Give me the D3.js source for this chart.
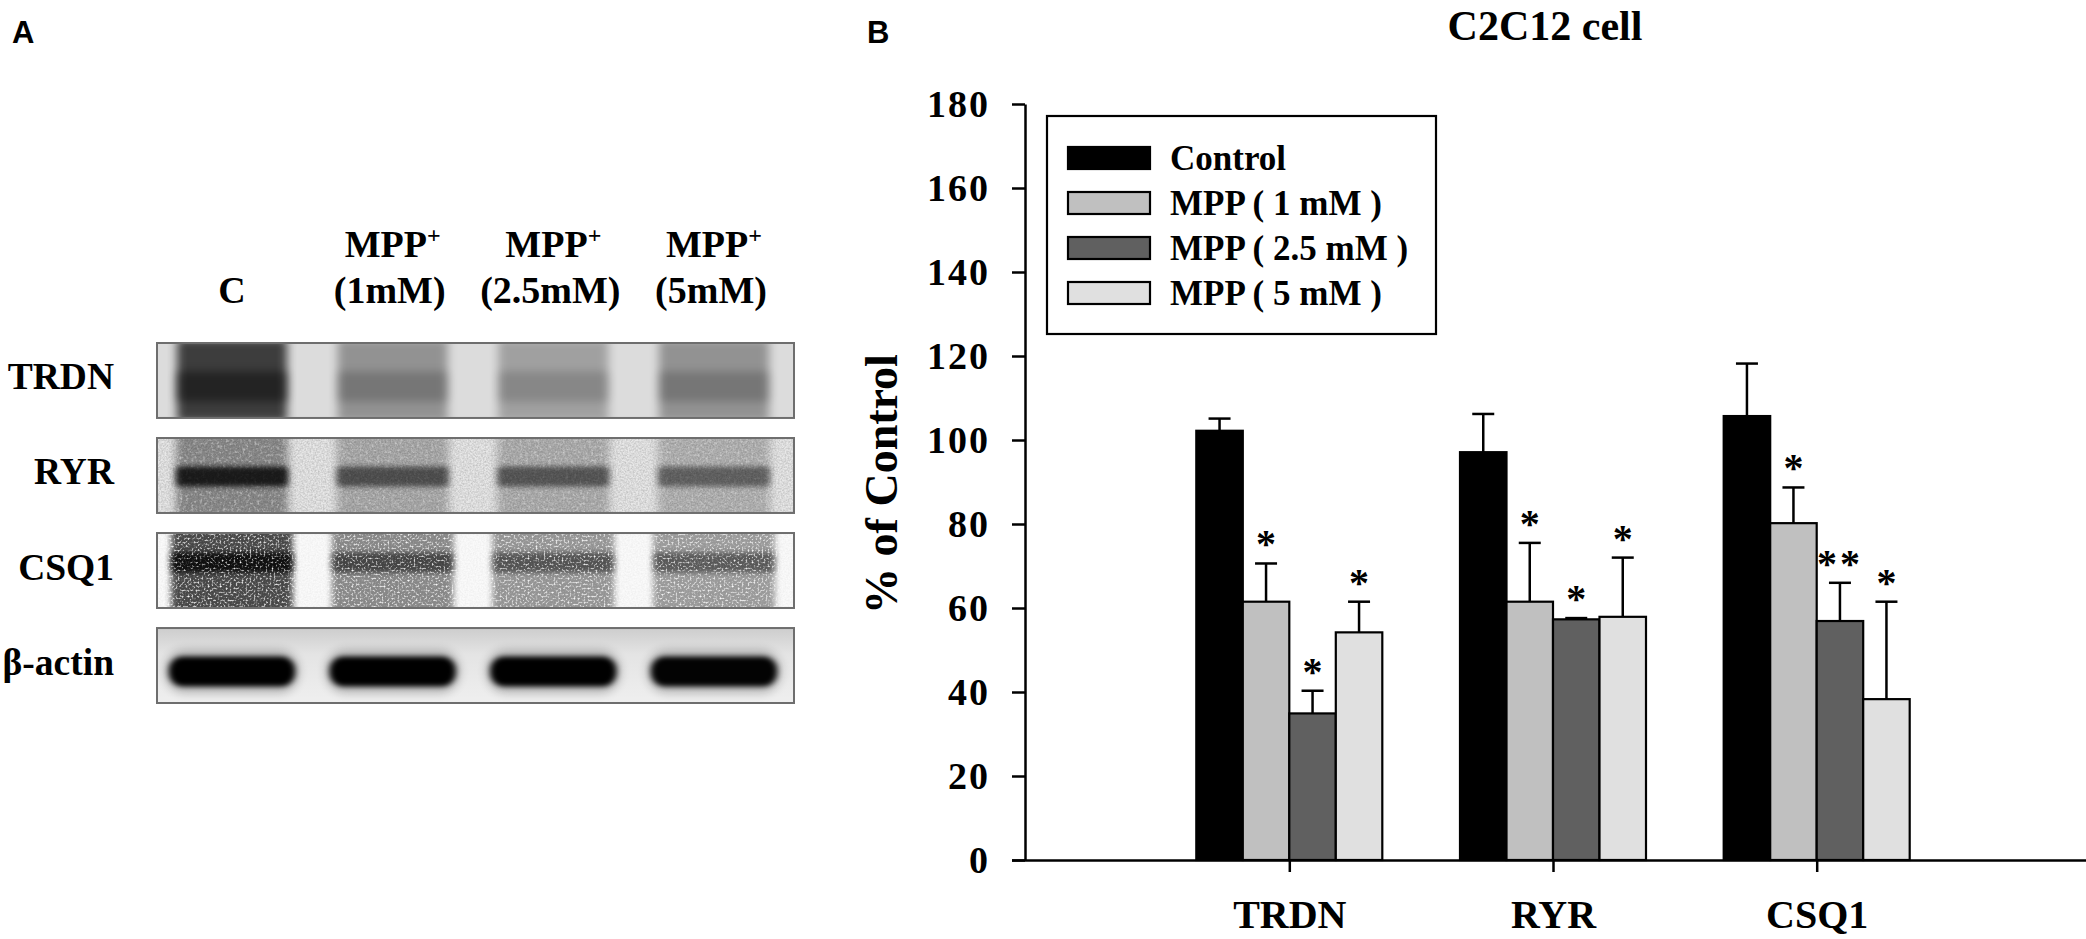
<!DOCTYPE html>
<html><head><meta charset="utf-8">
<script src="https://cdn.jsdelivr.net/npm/d3@7"></script>
<style>html,body{margin:0;padding:0;background:#fff;overflow:hidden}svg{display:block}</style>
</head><body>
<svg id="fig" width="2086" height="939"></svg>
<script>
// ================= DATA =================
// Panel B: bar chart
const categories = ["TRDN", "RYR", "CSQ1"];
const seriesNames = ["Control", "MPP ( 1 mM )", "MPP ( 2.5 mM )", "MPP ( 5 mM )"];
const controlVals = [102.2, 97.1, 105.7];
const mpp1Vals    = [61.5, 61.5, 80.2];
const mpp25Vals   = [34.9, 57.3, 56.9];
const mpp5Vals    = [54.2, 57.9, 38.3];
const controlErr  = [2.9, 9.1, 12.5];
const mpp1Err     = [9.1, 14.0, 8.5];
const mpp25Err    = [5.4, 0.3, 9.1];
const mpp5Err     = [7.3, 14.1, 23.2];
const controlSig  = ["", "", ""];
const mpp1Sig     = ["*", "*", "*"];
const mpp25Sig    = ["*", "*", "**"];
const mpp5Sig     = ["*", "*", "*"];
const yTicks = [0, 20, 40, 60, 80, 100, 120, 140, 160, 180];
const chartTitle = "C2C12 cell";
const yTitle = "% of Control";

// Panel A: western blot (band darkness, 0..1, estimated by eye)
const blotRows = ["TRDN", "RYR", "CSQ1", "β-actin"];
const blotLanes = ["C", "1mM", "2.5mM", "5mM"];
const laneTop = ["", "MPP", "MPP", "MPP"];
const laneBottom = ["C", "(1mM)", "(2.5mM)", "(5mM)"];
const trdnDensity  = [0.92, 0.42, 0.34, 0.42];
const ryrDensity   = [0.94, 0.62, 0.58, 0.52];
const csq1Density  = [0.98, 0.62, 0.55, 0.52];
const actinDensity = [1.0, 1.0, 1.0, 0.98];

// ================= DRAW =================
const svg = d3.select("#fig");
const SERIF = "'Liberation Serif','Times New Roman',serif";
const SANS = "'Liberation Sans',Arial,sans-serif";
const defs = svg.append("defs");

// Filters
const fSoft = defs.append("filter").attr("id", "fSoft").attr("x", "-40%").attr("y", "-60%").attr("width", "180%").attr("height", "220%");
fSoft.append("feGaussianBlur").attr("stdDeviation", "5 4");
const fSoft2 = defs.append("filter").attr("id", "fSoft2").attr("x", "-40%").attr("y", "-80%").attr("width", "180%").attr("height", "260%");
fSoft2.append("feGaussianBlur").attr("stdDeviation", "3 2.5");
function noiseFilter(id, blur, freq, k, off, seed) {
  const f = defs.append("filter").attr("id", id).attr("x", "-40%").attr("y", "-60%").attr("width", "180%").attr("height", "220%");
  f.append("feGaussianBlur").attr("in", "SourceGraphic").attr("stdDeviation", blur).attr("result", "b");
  f.append("feTurbulence").attr("type", "fractalNoise").attr("baseFrequency", freq).attr("numOctaves", 2).attr("seed", seed).attr("result", "t");
  f.append("feColorMatrix").attr("in", "t").attr("type", "matrix")
    .attr("values", `0 0 0 0 0  0 0 0 0 0  0 0 0 0 0  ${k} 0 0 0 ${off}`).attr("result", "m");
  f.append("feComposite").attr("in", "b").attr("in2", "m").attr("operator", "in");
}
noiseFilter("fNoiseLight", "4 3", 0.35, 1.6, 0.2, 3);
noiseFilter("fNoiseHeavy", "3 2.5", 0.5, 3.0, -0.55, 11);
noiseFilter("fBgNoise", "0.6", 0.6, 1.5, -0.45, 5);

const grad = defs.append("linearGradient").attr("id", "actinBg").attr("x1", 0).attr("y1", 0).attr("x2", 0).attr("y2", 1);
grad.append("stop").attr("offset", "0%").attr("stop-color", "#cdcdcd");
grad.append("stop").attr("offset", "35%").attr("stop-color", "#e4e4e4");
grad.append("stop").attr("offset", "100%").attr("stop-color", "#efefef");

// ---------- Panel A ----------
const gA = svg.append("g");
gA.append("text").attr("x", 12).attr("y", 43).attr("font-family", SANS).attr("font-weight", "bold")
  .attr("font-size", 31).text("A");

const boxX0 = 157, boxX1 = 794;
const laneX = d3.scalePoint().domain(blotLanes).range([232, 714]);
const rowY = d3.scaleBand().domain(blotRows).range([343, 703]).paddingInner(0.211);
const densities = [trdnDensity, ryrDensity, csq1Density, actinDensity];
const rowStyle = [
  {bg: "#dcdcdc", bgNoise: 0.0, smear: 0.78, smearFilter: "fSoft", band: 0.45, bandH: 30, off: 6, laneW: 110, bandFilter: "fSoft"},
  {bg: "#e8e8e8", bgNoise: 0.2, smear: 0.42, smearFilter: "fNoiseLight", band: 0.85, bandH: 20, off: 1, laneW: 112, bandFilter: "fSoft2"},
  {bg: "#fafafa", bgNoise: 0.05, smear: 0.72, smearFilter: "fNoiseHeavy", band: 0.8, bandH: 20, off: -8, laneW: 122, bandFilter: "fNoiseHeavy"},
  {bg: "url(#actinBg)", bgNoise: 0.0, smear: 0.0, smearFilter: null, band: 1.0, bandH: 30, off: 6, laneW: 126, bandFilter: "fSoft2"}
];

// lane labels
laneTop.forEach((t, i) => {
  if (t) {
    const tt = gA.append("text").attr("x", laneX(blotLanes[i])).attr("y", 257).attr("text-anchor", "middle")
      .attr("font-family", SERIF).attr("font-weight", "bold").attr("font-size", 38);
    tt.append("tspan").text(t);
    tt.append("tspan").attr("font-size", 24).attr("dy", -14).text("+");
  }
});
laneBottom.forEach((t, i) => {
  gA.append("text").attr("x", laneX(blotLanes[i]) - (i === 0 ? 0 : 3)).attr("y", 303).attr("text-anchor", "middle")
    .attr("font-family", SERIF).attr("font-weight", "bold").attr("font-size", 38).text(t);
});

blotRows.forEach((r, ri) => {
  const y0 = rowY(r), h = rowY.bandwidth(), st = rowStyle[ri];
  const cy = y0 + h / 2;
  const cid = "clipRow" + ri;
  defs.append("clipPath").attr("id", cid).append("rect").attr("x", boxX0).attr("y", y0).attr("width", boxX1 - boxX0).attr("height", h);
  const g = gA.append("g").attr("clip-path", `url(#${cid})`);
  g.append("rect").attr("x", boxX0).attr("y", y0).attr("width", boxX1 - boxX0).attr("height", h).attr("fill", st.bg);
  if (st.bgNoise > 0) {
    g.append("rect").attr("x", boxX0).attr("y", y0).attr("width", boxX1 - boxX0).attr("height", h)
      .attr("fill", "#000").attr("opacity", st.bgNoise).attr("filter", "url(#fBgNoise)");
  }
  const d = densities[ri];
  // lane smear
  if (st.smear > 0) {
    g.selectAll(".smear").data(blotLanes).enter().append("rect")
      .attr("x", l => laneX(l) - st.laneW / 2).attr("y", y0 - 4).attr("width", st.laneW).attr("height", h + 8)
      .attr("fill", "#000").attr("opacity", (l, i) => d[i] * st.smear)
      .attr("filter", `url(#${st.smearFilter})`);
  }
  // band
  if (ri === 3) {
    g.selectAll(".halo").data(blotLanes).enter().append("rect")
      .attr("x", l => laneX(l) - st.laneW / 2 - 4).attr("y", cy + st.off - st.bandH / 2 - 7)
      .attr("width", st.laneW + 8).attr("height", st.bandH + 14).attr("rx", 20)
      .attr("fill", "#000").attr("opacity", (l, i) => d[i] * 0.22).attr("filter", "url(#fSoft)");
  }
  g.selectAll(".band").data(blotLanes).enter().append("rect")
    .attr("x", l => laneX(l) - st.laneW / 2).attr("y", cy + st.off - st.bandH / 2)
    .attr("width", st.laneW).attr("height", st.bandH).attr("rx", ri === 3 ? 14 : 4)
    .attr("fill", "#000").attr("opacity", (l, i) => Math.min(1, d[i] * st.band))
    .attr("filter", `url(#${st.bandFilter})`);
  // box frame
  gA.append("rect").attr("x", boxX0).attr("y", y0).attr("width", boxX1 - boxX0).attr("height", h)
    .attr("fill", "none").attr("stroke", "#6e6e6e").attr("stroke-width", 2);
  // row label
  gA.append("text").attr("x", 114).attr("y", cy + 9).attr("text-anchor", "end")
    .attr("font-family", SERIF).attr("font-weight", "bold").attr("font-size", 37.5).text(r);
});

// ---------- Panel B ----------
const gB = svg.append("g");
gB.append("text").attr("x", 867).attr("y", 43).attr("font-family", SANS).attr("font-weight", "bold")
  .attr("font-size", 31).text("B");

const xAxisY = 860, yAxisX = 1025;
const y = d3.scaleLinear().domain([0, 180]).range([860, 104]);
const x = d3.scalePoint().domain(categories).range([1289.3, 1816.7]);
const sub = d3.scaleBand().domain(seriesNames).range([-93, 93]).paddingInner(0);
const colors = d3.scaleOrdinal().domain(seriesNames).range(["#000000", "#c0c0c0", "#606060", "#e0e0e0"]);

const valsBy = [controlVals, mpp1Vals, mpp25Vals, mpp5Vals];
const errBy = [controlErr, mpp1Err, mpp25Err, mpp5Err];
const sigBy = [controlSig, mpp1Sig, mpp25Sig, mpp5Sig];

const barData = [];
categories.forEach((c, ci) => seriesNames.forEach((s, si) => {
  barData.push({cat: c, series: s, v: valsBy[si][ci], e: errBy[si][ci], sig: sigBy[si][ci]});
}));

// title
gB.append("text").attr("x", 1545).attr("y", 40).attr("text-anchor", "middle")
  .attr("font-family", SERIF).attr("font-weight", "bold").attr("font-size", 42).text(chartTitle);

// y title
gB.append("text").attr("transform", "translate(897,484) rotate(-90)").attr("text-anchor", "middle")
  .attr("font-family", SERIF).attr("font-weight", "bold").attr("font-size", 46).text(yTitle);

// bars
const bars = gB.append("g");
bars.selectAll("rect").data(barData).enter().append("rect")
  .attr("x", d => x(d.cat) + sub(d.series))
  .attr("y", d => y(d.v))
  .attr("width", sub.bandwidth())
  .attr("height", d => y(0) - y(d.v))
  .attr("fill", d => colors(d.series))
  .attr("stroke", "#000").attr("stroke-width", 2.2);

// error bars
const eb = gB.append("g").attr("stroke", "#000").attr("stroke-width", 2.5);
eb.selectAll("line.v").data(barData).enter().append("line")
  .attr("x1", d => x(d.cat) + sub(d.series) + sub.bandwidth() / 2)
  .attr("x2", d => x(d.cat) + sub(d.series) + sub.bandwidth() / 2)
  .attr("y1", d => y(d.v)).attr("y2", d => y(d.v + d.e));
eb.selectAll("line.c").data(barData).enter().append("line")
  .attr("x1", d => x(d.cat) + sub(d.series) + sub.bandwidth() / 2 - 11)
  .attr("x2", d => x(d.cat) + sub(d.series) + sub.bandwidth() / 2 + 11)
  .attr("y1", d => y(d.v + d.e)).attr("y2", d => y(d.v + d.e));

// significance marks
gB.append("g").selectAll("text").data(barData.filter(d => d.sig)).enter().append("text")
  .attr("x", d => x(d.cat) + sub(d.series) + sub.bandwidth() / 2)
  .attr("y", d => y(d.v + d.e) - 6)
  .attr("text-anchor", "middle").attr("letter-spacing", d => d.sig.length > 1 ? 3 : 0)
  .attr("font-family", SERIF).attr("font-weight", "bold").attr("font-size", 40).text(d => d.sig);

// y axis
const yAxis = gB.append("g").attr("transform", `translate(${yAxisX},0)`)
  .call(d3.axisLeft(y).tickValues(yTicks).tickSize(13).tickSizeOuter(0).tickPadding(22).tickFormat(d3.format("d")));
yAxis.select(".domain").attr("stroke-width", 2.5);
yAxis.selectAll(".tick line").attr("stroke-width", 2.5);
yAxis.selectAll(".tick text").attr("font-family", SERIF).attr("font-weight", "bold").attr("font-size", 38)
  .attr("letter-spacing", 2).attr("fill", "#000");

// x axis
const xAxis = gB.append("g").attr("transform", `translate(0,${xAxisY})`)
  .call(d3.axisBottom(x).tickSize(12).tickSizeOuter(0).tickPadding(30));
xAxis.select(".domain").attr("d", `M${yAxisX - 13},0.5H2086`).attr("stroke-width", 2.5);
xAxis.selectAll(".tick line").attr("stroke-width", 2.5);
xAxis.selectAll(".tick text").attr("font-family", SERIF).attr("font-weight", "bold").attr("font-size", 40)
  .attr("fill", "#000").attr("dy", null).attr("y", 68);

// legend
const lg = gB.append("g");
lg.append("rect").attr("x", 1047).attr("y", 116).attr("width", 389).attr("height", 218)
  .attr("fill", "#fff").attr("stroke", "#000").attr("stroke-width", 2.2);
const lrow = d3.scalePoint().domain(seriesNames).range([147, 282]);
lg.selectAll("rect.sw").data(seriesNames).enter().append("rect")
  .attr("x", 1068).attr("y", s => lrow(s)).attr("width", 82).attr("height", 22)
  .attr("fill", s => colors(s)).attr("stroke", "#000").attr("stroke-width", 2.2);
lg.selectAll("text").data(seriesNames).enter().append("text")
  .attr("x", 1170).attr("y", s => lrow(s) + 23)
  .attr("font-family", SERIF).attr("font-weight", "bold").attr("font-size", 35).text(s => s);
</script>
</body></html>
